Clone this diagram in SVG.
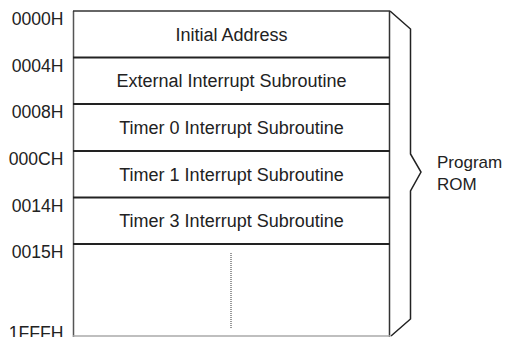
<svg xmlns="http://www.w3.org/2000/svg" width="507" height="337" viewBox="0 0 507 337">
<style>
text{font-family:"Liberation Sans",Arial,sans-serif;fill:#222}
.cell{font-size:18px;text-anchor:middle}
.addr{font-size:17.6px;text-anchor:end}
.div{stroke:#222;stroke-width:2}
</style>
<rect width="507" height="337" fill="#fff"/>
<g id="memory-map">
<line x1="73.5" y1="11" x2="73.5" y2="337" stroke="#555" stroke-width="1.5"/>
<line x1="73" y1="11" x2="390" y2="11" stroke="#333" stroke-width="1.5"/>
<line x1="389.5" y1="11" x2="389.5" y2="337" stroke="#333" stroke-width="1.5"/>
<line x1="73" y1="336" x2="390" y2="336" stroke="#aaa" stroke-width="1.5"/>
</g>
<g id="connectors">
<line class="div" x1="73" y1="57.5" x2="390" y2="57.5"/>
<line class="div" x1="73" y1="104" x2="390" y2="104"/>
<line class="div" x1="73" y1="151" x2="390" y2="151"/>
<line class="div" x1="73" y1="197.5" x2="390" y2="197.5"/>
<line class="div" x1="73" y1="244" x2="390" y2="244"/>
<line x1="231" y1="253" x2="231" y2="328" stroke="#333" stroke-width="1" stroke-dasharray="1,1"/>
</g>
<g id="cell-initial"><text class="cell" x="231.5" y="40.5">Initial Address</text></g>
<g id="cell-ext"><text class="cell" x="231.5" y="87">External Interrupt Subroutine</text></g>
<g id="cell-t0"><text class="cell" x="231.5" y="134">Timer 0 Interrupt Subroutine</text></g>
<g id="cell-t1"><text class="cell" x="231.5" y="180.5">Timer 1 Interrupt Subroutine</text></g>
<g id="cell-t3"><text class="cell" x="231.5" y="227">Timer 3 Interrupt Subroutine</text></g>
<g id="addresses">
<text class="addr" x="63.5" y="25">0000H</text>
<text class="addr" x="63.5" y="71.5">0004H</text>
<text class="addr" x="63.5" y="118">0008H</text>
<text class="addr" x="63.5" y="165">000CH</text>
<text class="addr" x="63.5" y="211.5">0014H</text>
<text class="addr" x="63.5" y="258">0015H</text>
<text class="addr" x="63.5" y="338.5">1FFFH</text>
</g>
<g id="program-rom">
<polyline points="390,11 410.5,29 410.5,154 421,172 410.5,191 410.5,319 391,336" fill="none" stroke="#222" stroke-width="1.5"/>
<text x="437" y="168.3" font-size="17">Program</text>
<text x="437" y="190" font-size="17">ROM</text>
</g>
</svg>
